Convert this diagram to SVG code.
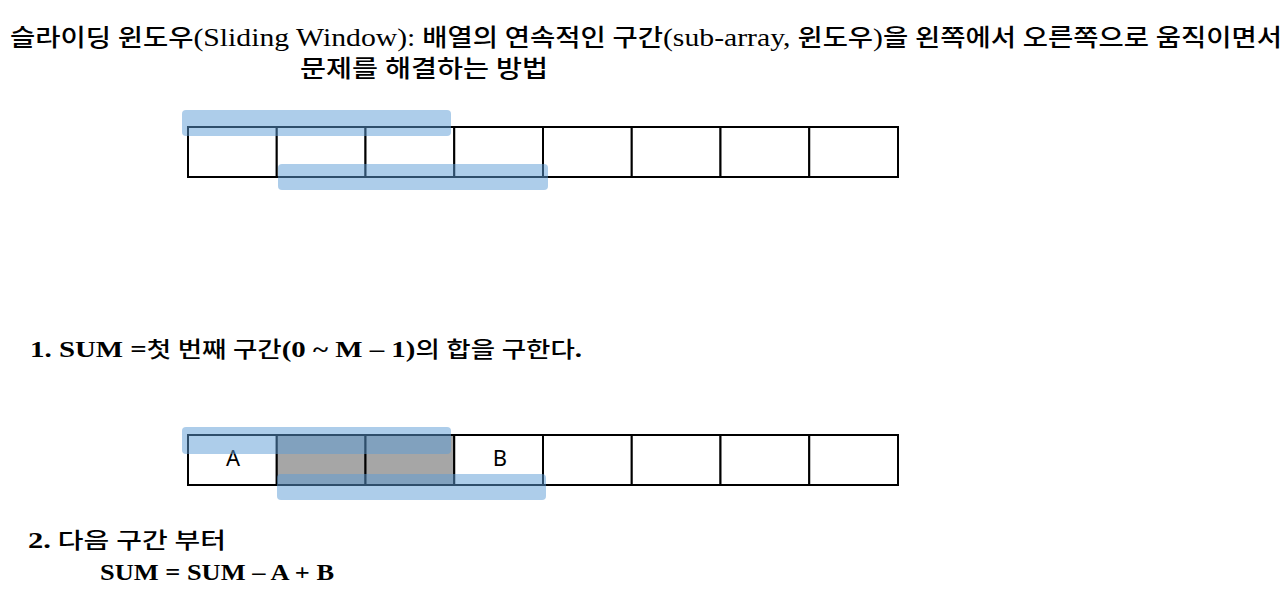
<svg xmlns="http://www.w3.org/2000/svg" width="1287" height="594" viewBox="0 0 1287 594">
<style>
.txt{font-family:"Liberation Serif","Noto Sans CJK KR",serif;fill:#000;font-weight:500;}
.lat{font-weight:normal;font-size:26px;}
.latb{font-weight:bold;}
.cell{fill:#fff;stroke:#000;stroke-width:2;}
.gray{fill:#a6a6a6;stroke:#000;stroke-width:2;}
.hl{fill:#5b9bd5;fill-opacity:0.5;}
.lbl{font-family:"Noto Sans","Noto Sans CJK KR",sans-serif;font-size:22px;fill:#000;text-anchor:middle;}
</style>
<rect width="1287" height="594" fill="#fff"/>
<g id="title">
<text class="txt" x="10" y="46" font-size="24" textLength="1272" lengthAdjust="spacingAndGlyphs">슬라이딩 윈도우<tspan class="lat">(Sliding Window):</tspan> 배열의 연속적인 구간<tspan class="lat">(sub-array,</tspan> 윈도우<tspan class="lat">)</tspan>을 왼쪽에서 오른쪽으로 움직이면서</text>
<text class="txt" x="300" y="77" font-size="24" textLength="248" lengthAdjust="spacingAndGlyphs">문제를 해결하는 방법</text>
</g>
<g id="array1">
<rect class="cell" x="188" y="127" width="88.75" height="50"/>
<rect class="cell" x="276.75" y="127" width="88.75" height="50"/>
<rect class="cell" x="365.5" y="127" width="88.75" height="50"/>
<rect class="cell" x="454.25" y="127" width="88.75" height="50"/>
<rect class="cell" x="543" y="127" width="88.75" height="50"/>
<rect class="cell" x="631.75" y="127" width="88.75" height="50"/>
<rect class="cell" x="720.5" y="127" width="88.75" height="50"/>
<rect class="cell" x="809.25" y="127" width="88.75" height="50"/>
</g>
<g id="window1">
<rect class="hl" x="182" y="110" width="269" height="26" rx="4"/>
<rect class="hl" x="278" y="164" width="270" height="26" rx="4"/>
</g>
<g id="step1">
<text class="txt" x="30" y="357" font-size="22" textLength="552" lengthAdjust="spacingAndGlyphs"><tspan class="latb" font-size="24">1. SUM =</tspan>첫 번째 구간<tspan class="latb" font-size="24">(0 ~ M – 1)</tspan>의 합을 구한다<tspan class="latb" font-size="24">.</tspan></text>
</g>
<g id="array2">
<rect class="cell" x="188" y="435" width="88.75" height="50"/>
<rect class="gray" x="276.75" y="435" width="88.75" height="50"/>
<rect class="gray" x="365.5" y="435" width="88.75" height="50"/>
<rect class="cell" x="454.25" y="435" width="88.75" height="50"/>
<rect class="cell" x="543" y="435" width="88.75" height="50"/>
<rect class="cell" x="631.75" y="435" width="88.75" height="50"/>
<rect class="cell" x="720.5" y="435" width="88.75" height="50"/>
<rect class="cell" x="809.25" y="435" width="88.75" height="50"/>
<text class="lbl" x="233" y="466">A</text>
<text class="lbl" x="500" y="466">B</text>
</g>
<g id="window2">
<rect class="hl" x="182" y="427" width="269" height="27" rx="4"/>
<rect class="hl" x="277" y="474" width="269" height="26" rx="4"/>
</g>
<g id="step2">
<text class="txt" x="28" y="548" font-size="22" textLength="198" lengthAdjust="spacingAndGlyphs"><tspan class="latb" font-size="24">2.</tspan> 다음 구간 부터</text>
<text class="txt latb" x="100" y="580" font-size="24" textLength="234" lengthAdjust="spacingAndGlyphs">SUM = SUM – A + B</text>
</g>
</svg>
